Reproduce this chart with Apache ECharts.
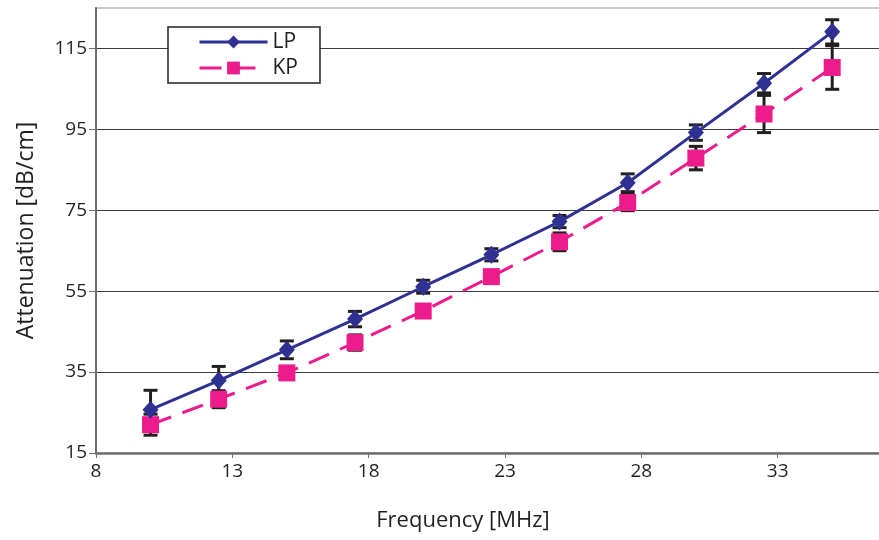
<!DOCTYPE html>
<html>
<head>
<meta charset="utf-8">
<script src="https://cdn.jsdelivr.net/npm/echarts@6/dist/echarts.min.js"></script>
<style>
  html, body { margin: 0; padding: 0; background: #fff; }
  #chart { width: 879px; height: 540px; }
</style>
</head>
<body>
<div id="chart"></div>
<script>
// Frequency (MHz) of each measurement
const frequency = [10, 12.5, 15, 17.5, 20, 22.5, 25, 27.5, 30, 32.5, 35];
// Mean attenuation (dB/cm) and standard deviation
const lpValues = [25.7, 32.9, 40.5, 48.1, 56.1, 64.0, 72.2, 81.8, 94.2, 106.4, 119.1];
const lpError  = [4.8, 3.5, 2.2, 1.9, 1.6, 1.5, 1.5, 2.2, 1.9, 2.4, 3.0];
const kpValues = [22.0, 28.3, 34.8, 42.3, 50.1, 58.6, 67.2, 76.9, 87.9, 98.8, 110.3];
const kpError  = [2.6, 2.1, 1.5, 1.9, 1.5, 1.5, 2.2, 2.0, 2.9, 4.6, 5.4];
// Axis tick labels
const xTicks = [8, 13, 18, 23, 28, 33, 38];
const yTicks = [15, 35, 55, 75, 95, 115];

const FONT = 'Open Sans';
const LP_COLOR = '#2e3192';
const KP_COLOR = '#ec1c8c';

function pairs(xs, ys) { return xs.map((x, i) => [x, ys[i]]); }
function errRows(xs, ys, es) { return xs.map((x, i) => [x, ys[i] - es[i], ys[i] + es[i]]); }

// Whisker with caps, drawn through the axis scales
function renderErr(params, api) {
  const x = api.value(0);
  const lo = api.coord([x, api.value(1)]);
  const hi = api.coord([x, api.value(2)]);
  const hw = 7;
  const style = { stroke: '#231f20', lineWidth: 3 };
  return {
    type: 'group',
    children: [
      { type: 'line', shape: { x1: lo[0], y1: lo[1], x2: hi[0], y2: hi[1] }, style },
      { type: 'line', shape: { x1: lo[0] - hw, y1: lo[1], x2: lo[0] + hw, y2: lo[1] }, style },
      { type: 'line', shape: { x1: hi[0] - hw, y1: hi[1], x2: hi[0] + hw, y2: hi[1] }, style }
    ]
  };
}

const chart = echarts.init(document.getElementById('chart'), null, { renderer: 'canvas' });
chart.setOption({
  animation: false,
  backgroundColor: '#fff',
  grid: {
    left: 96, top: 8, right: -35, bottom: 87,
    outerBoundsMode: 'none', containLabel: false,
    show: true, borderColor: '#b8b8b8', borderWidth: 1.5, backgroundColor: 'transparent'
  },
  legend: {
    orient: 'vertical',
    left: 168, top: 27,
    padding: [4, 22, 4, 30],
    itemGap: 4,
    itemWidth: 68, itemHeight: 16,
    itemTextGap: 5,
    backgroundColor: '#fff',
    borderColor: '#231f20', borderWidth: 1.5,
    lineStyle: { width: 3 },
    textStyle: { fontFamily: FONT, fontSize: 21, color: '#231f20', lineHeight: 22 },
    data: ['LP', 'KP']
  },
  xAxis: {
    type: 'value', min: 8, max: 38,
    name: 'Frequency [MHz]', nameLocation: 'middle', nameGap: 57,
    nameTextStyle: { fontFamily: FONT, fontSize: 22, color: '#231f20', padding: [0, 84, 0, 0] },
    axisLine: { lineStyle: { color: '#6d6e71', width: 2.5 } },
    axisTick: { show: true, length: 5, lineStyle: { color: '#6d6e71', width: 1 }, customValues: xTicks },
    axisLabel: { customValues: xTicks, fontFamily: FONT, fontSize: 19, color: '#231f20', margin: 9 },
    splitLine: { show: false }
  },
  yAxis: {
    type: 'value', min: 15, max: 125,
    name: 'Attenuation [dB/cm]', nameLocation: 'middle', nameGap: 58, nameRotate: 90,
    nameTextStyle: { fontFamily: FONT, fontSize: 23, color: '#231f20' },
    axisLine: { show: true, lineStyle: { color: '#6d6e71', width: 2 } },
    axisTick: { show: true, length: 7, lineStyle: { color: '#6d6e71', width: 1 }, customValues: yTicks },
    axisLabel: { customValues: yTicks, fontFamily: FONT, fontSize: 19, color: '#231f20', margin: 9 },
    splitLine: { show: true, lineStyle: { color: '#3c3c3c', width: 1 } }
  },
  series: [
    {
      name: 'LP err', type: 'custom', renderItem: renderErr, z: 2,
      data: errRows(frequency, lpValues, lpError), encode: { x: 0, y: [1, 2] }, silent: true
    },
    {
      name: 'KP err', type: 'custom', renderItem: renderErr, z: 2,
      data: errRows(frequency, kpValues, kpError), encode: { x: 0, y: [1, 2] }, silent: true
    },
    {
      name: 'KP', type: 'line', z: 3,
      data: pairs(frequency, kpValues),
      symbol: 'rect', symbolSize: 17,
      itemStyle: { color: KP_COLOR },
      lineStyle: { color: KP_COLOR, width: 3, type: [22, 12] }
    },
    {
      name: 'LP', type: 'line', z: 4,
      data: pairs(frequency, lpValues),
      symbol: 'diamond', symbolSize: [16, 18],
      itemStyle: { color: LP_COLOR },
      lineStyle: { color: LP_COLOR, width: 3 }
    }
  ]
});
</script>
</body>
</html>
